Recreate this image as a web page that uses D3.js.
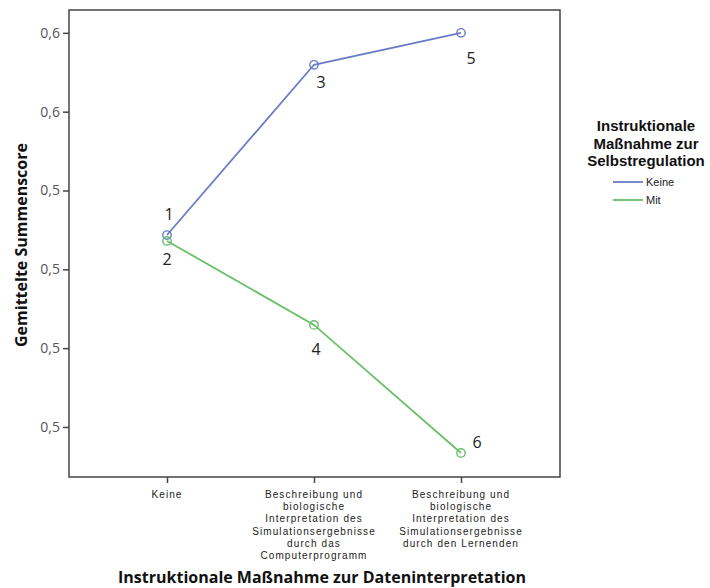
<!DOCTYPE html>
<html><head><meta charset="utf-8">
<script src="https://cdn.jsdelivr.net/npm/d3@7"></script>
<style>body{margin:0;background:#fff}svg{display:block}</style>
</head><body>
<script>
const categories = ["Keine",
  "Beschreibung und|biologische|Interpretation des|Simulationsergebnisse|durch das|Computerprogramm",
  "Beschreibung und|biologische|Interpretation des|Simulationsergebnisse|durch den Lernenden"];
const seriesNames = ["Keine", "Mit"];
const keineValues = [0.5287, 0.5719, 0.5800];
const mitValues = [0.5272, 0.5059, 0.4734];
const pointLabelsKeine = ["1", "3", "5"];
const pointLabelsMit = ["2", "4", "6"];
const yTicks = [0.48, 0.50, 0.52, 0.54, 0.56, 0.58];
const colors = ["#6a7cc6", "#6abf69"];

(function () {
const W = 710, H = 588;
const pL = 69, pR = 560, pT = 10, pB = 477;
const svg = d3.select("body").append("svg").attr("width", W).attr("height", H);

const x = d3.scalePoint().domain(d3.range(categories.length)).range([167, 461]);
const y = d3.scaleLinear().domain([0.4673, 0.5858]).range([pB, pT]);

svg.append("rect").attr("x", pL).attr("y", pT).attr("width", pR - pL).attr("height", pB - pT)
  .attr("fill", "none").attr("stroke", "#444").attr("stroke-width", 1.5);

const yAxis = d3.axisLeft(y).tickValues(yTicks).tickSize(6).tickPadding(3)
  .tickFormat(d => d3.format(".1f")(d).replace(".", ","));
const gy = svg.append("g").attr("transform", `translate(${pL},0)`).call(yAxis);
gy.select(".domain").remove();
gy.selectAll(".tick line").attr("stroke", "#444").attr("stroke-width", 1.5);
gy.selectAll(".tick text").attr("fill", "#555").style("font-family", "Open Sans, sans-serif").style("font-size", "14px");

const xAxis = d3.axisBottom(x).tickSize(6).tickFormat("");
const gx = svg.append("g").attr("transform", `translate(0,${pB})`).call(xAxis);
gx.select(".domain").remove();
gx.selectAll(".tick line").attr("stroke", "#444").attr("stroke-width", 1.5);
categories.forEach((c, i) => {
  const t = svg.append("text").attr("x", x(i)).attr("y", 498).attr("text-anchor", "middle")
    .style("font-family", "Liberation Sans, Arial, sans-serif").style("font-size", "10px")
    .style("letter-spacing", "1.1px").attr("fill", "#222");
  c.split("|").forEach((line, j) => {
    t.append("tspan").attr("x", x(i)).attr("dy", j === 0 ? 0 : 12.2).text(line);
  });
});

svg.append("text").attr("x", 322).attr("y", 583).attr("text-anchor", "middle")
  .style("font-family", "Open Sans, sans-serif").style("font-weight", "bold").style("font-size", "16px")
  .attr("fill", "#111").text("Instruktionale Maßnahme zur Dateninterpretation");
svg.append("text").attr("transform", "translate(27,245) rotate(-90)").attr("text-anchor", "middle")
  .style("font-family", "Open Sans, sans-serif").style("font-weight", "bold").style("font-size", "16px")
  .attr("fill", "#111").text("Gemittelte Summenscore");

const line = d3.line().x((d, i) => x(i)).y(d => y(d));
[keineValues, mitValues].forEach((vals, s) => {
  svg.append("path").datum(vals).attr("d", line).attr("fill", "none")
    .attr("stroke", colors[s]).attr("stroke-width", 1.8);
  svg.selectAll(null).data(vals).enter().append("circle")
    .attr("cx", (d, i) => x(i)).attr("cy", d => y(d)).attr("r", 4.2)
    .attr("fill", "none").attr("stroke", colors[s]).attr("stroke-width", 1.4);
});

const labOffK = [[2, -15], [7, 23], [10, 31]];
const labOffM = [[0, 24], [2, 30], [16, -5]];
function addLabels(vals, labels, offs) {
  vals.forEach((v, i) => {
    svg.append("text").attr("x", x(i) + offs[i][0]).attr("y", y(v) + offs[i][1])
      .attr("text-anchor", "middle").style("font-family", "Open Sans, sans-serif")
      .style("font-size", "16px").attr("fill", "#222").text(labels[i]);
  });
}
addLabels(keineValues, pointLabelsKeine, labOffK);
addLabels(mitValues, pointLabelsMit, labOffM);

const legTitle = ["Instruktionale", "Maßnahme zur", "Selbstregulation"];
legTitle.forEach((t, i) => {
  svg.append("text").attr("x", 646).attr("y", 131 + i * 17.5).attr("text-anchor", "middle")
    .style("font-family", "Liberation Sans, Arial, sans-serif").style("font-weight", "bold")
    .style("font-size", "15px").attr("fill", "#111").text(t);
});
seriesNames.forEach((n, i) => {
  const yy = 182 + i * 18;
  svg.append("line").attr("x1", 613).attr("x2", 643).attr("y1", yy).attr("y2", yy)
    .attr("stroke", colors[i]).attr("stroke-width", 1.8);
  svg.append("text").attr("x", 646).attr("y", yy + 4).style("font-family", "Liberation Sans, Arial, sans-serif")
    .style("font-size", "11px").attr("fill", "#222").text(n);
});
})();
</script>
</body></html>
